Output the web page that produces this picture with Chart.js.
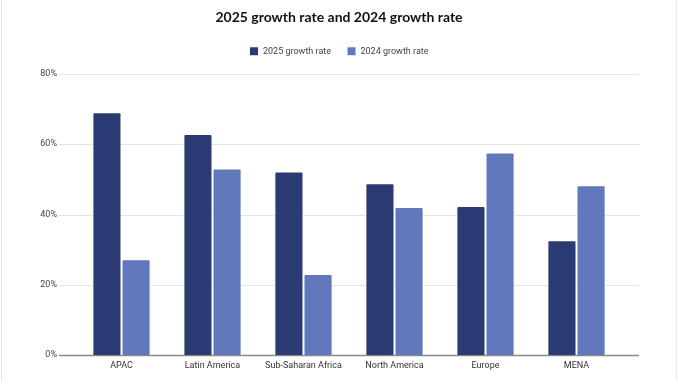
<!DOCTYPE html>
<html>
<head>
<meta charset="utf-8">
<script src="https://cdn.jsdelivr.net/npm/chart.js@4/dist/chart.umd.min.js"></script>
<style>
  html, body { margin: 0; padding: 0; background: #fff; }
  #wrap { position: relative; height: 381px; box-sizing: border-box; border-left: 1px solid #e8e8e8; border-right: 1px solid #e8e8e8; margin-left: 1px; width: 676px; }
  canvas { display: block; }
</style>
</head>
<body>
<div id="wrap"><canvas id="c" width="674" height="381"></canvas></div>
<script>
const categories = ["APAC", "Latin America", "Sub-Saharan Africa", "North America", "Europe", "MENA"];
const growth2025 = [69.1, 62.9, 52.2, 48.9, 42.4, 32.7];
const growth2024 = [27.3, 53.1, 23.1, 42.1, 57.6, 48.3];
const seriesNames = ["2025 growth rate", "2024 growth rate"];
const yTicks = [0, 20, 40, 60, 80];

const gridPlugin = {
  id: 'wideGrid',
  beforeDatasetsDraw(chart) {
    const { ctx, scales: { y } } = chart;
    const left = 57, right = 637;
    ctx.save();
    yTicks.forEach(v => {
      const py = Math.round(y.getPixelForValue(v)) + 0.5;
      ctx.beginPath();
      ctx.strokeStyle = v === 0 ? '#8a8a8a' : '#e3e3e3';
      ctx.lineWidth = v === 0 ? 1.5 : 1;
      ctx.moveTo(left, py);
      ctx.lineTo(right, py);
      ctx.stroke();
    });
    ctx.restore();
  }
};

const legendGap = {
  id: 'legendGap',
  beforeLayout(chart) {
    const lg = chart.legend;
    if (lg && !lg._gapPatched) {
      const orig = lg.fit;
      lg.fit = function () { orig.call(this); this.height += 8; };
      lg._gapPatched = true;
    }
  }
};

const tickFont = { family: 'Roboto', size: 9 };

new Chart(document.getElementById('c'), {
  type: 'bar',
  data: {
    labels: categories,
    datasets: [
      { label: seriesNames[0], data: growth2025, backgroundColor: '#2b3a73', borderColor: '#ffffff', borderWidth: 1, borderRadius: 2, borderSkipped: 'bottom' },
      { label: seriesNames[1], data: growth2024, backgroundColor: '#6179bc', borderColor: '#ffffff', borderWidth: 1, borderRadius: 2, borderSkipped: 'bottom' }
    ]
  },
  options: {
    responsive: false,
    animation: false,
    categoryPercentage: 0.64,
    barPercentage: 1.0,
    layout: { padding: { left: 0, right: 0, top: 0, bottom: 5 } },
    plugins: {
      title: {
        display: true,
        text: '2025 growth rate and 2024 growth rate',
        color: '#111111',
        font: { family: 'Lato', size: 14, weight: 'bold' },
        padding: { top: 9, bottom: 5 }
      },
      legend: {
        display: true,
        labels: {
          boxWidth: 9, boxHeight: 9, color: '#444',
          font: { family: 'Roboto', size: 9 },
          padding: 16
        }
      },
      tooltip: { enabled: false }
    },
    scales: {
      x: {
        grid: { display: false, drawTicks: false },
        border: { display: false },
        ticks: { color: '#333', font: tickFont, padding: 5, maxRotation: 0, minRotation: 0, autoSkip: false }
      },
      y: {
        min: 0, max: 80,
        afterBuildTicks(axis) { axis.ticks = yTicks.map(v => ({ value: v })); },
        afterFit(axis) { axis.width = 74; },
        grid: { display: false, drawTicks: false },
        border: { display: false },
        ticks: { color: '#444', font: tickFont, padding: 19, callback: v => v + '%' }
      },
      y2: {
        position: 'right',
        min: 0, max: 80,
        afterFit(axis) { axis.width = 54; },
        grid: { display: false, drawTicks: false },
        border: { display: false },
        ticks: { display: false }
      }
    }
  },
  plugins: [gridPlugin, legendGap]
});
</script>
</body>
</html>
